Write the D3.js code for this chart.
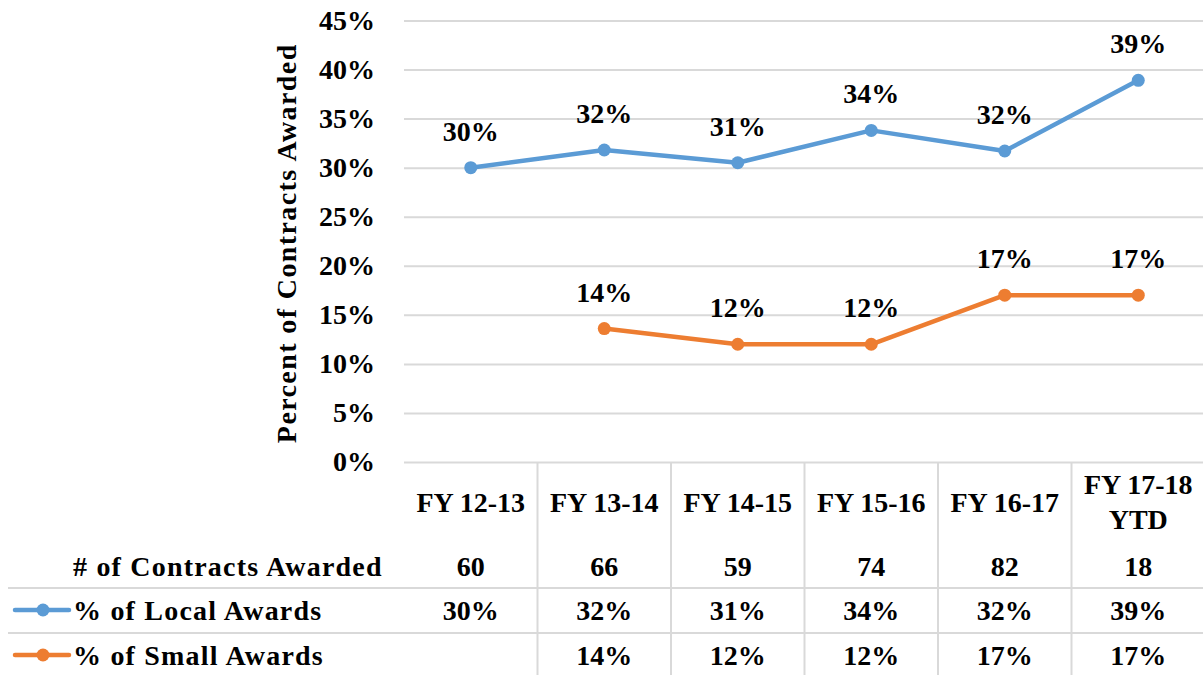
<!DOCTYPE html>
<html>
<head>
<meta charset="utf-8">
<script src="https://cdn.jsdelivr.net/npm/d3@7"></script>
<style>
  body { margin: 0; background: #fff; }
</style>
</head>
<body>
<svg id="chart"></svg>
<script>
// Data
const categories = ["FY 12-13", "FY 13-14", "FY 14-15", "FY 15-16", "FY 16-17", "FY 17-18 YTD"];
const contracts = [60, 66, 59, 74, 82, 18];
const localPct = [30.0, 31.8, 30.5, 33.8, 31.7, 38.9];
const smallPct = [null, 13.6, 12.0, 12.0, 17.0, 17.0];
const localLabels = ["30%", "32%", "31%", "34%", "32%", "39%"];
const smallLabels = ["", "14%", "12%", "12%", "17%", "17%"];
const yTicks = [0, 5, 10, 15, 20, 25, 30, 35, 40, 45];

const width = 1203;
const height = 675;
const plot = { left: 404, right: 1205, top: 20.5, bottom: 462 };

const fontFamily = '"Liberation Serif", "Times New Roman", "DejaVu Serif", serif';
const fontSize = "28px";
const blue = "#5b9bd5";
const orange = "#ed7d31";
const gridColor = "#d9d9d9";

const svg = d3.select("#chart")
  .attr("width", width)
  .attr("height", height)
  .attr("font-family", fontFamily)
  .attr("font-weight", "bold")
  .attr("font-size", fontSize);

const x = d3.scaleBand().domain(categories).range([plot.left, plot.right]).padding(0);
const y = d3.scaleLinear().domain([0, 45]).range([plot.bottom, plot.top]);
const cx = (d) => x(d) + x.bandwidth() / 2;

// label helper so every text gets the serif font (axes set their own)
const styleText = (sel) =>
  sel.attr("font-family", fontFamily).attr("font-weight", "bold").attr("font-size", fontSize).attr("fill", "#000");

// Gridlines
svg.append("g")
  .attr("transform", `translate(${plot.left},0)`)
  .call(d3.axisLeft(y).tickValues(yTicks).tickSize(-(plot.right - plot.left)).tickFormat(""))
  .call((g) => g.select(".domain").remove())
  .selectAll("line")
  .attr("stroke", gridColor)
  .attr("stroke-width", 2);

// Y axis labels
const yAxis = svg.append("g")
  .attr("transform", `translate(${plot.left},0)`)
  .call(d3.axisLeft(y).tickValues(yTicks).tickSize(0).tickPadding(29).tickFormat((d) => d + "%"))
  .call((g) => g.select(".domain").remove());
yAxis.attr("font-family", fontFamily).attr("font-size", fontSize);
styleText(yAxis.selectAll("text"));

// Y axis title
svg.append("text")
  .attr("transform", `translate(296,${(plot.top + plot.bottom) / 2 + 2}) rotate(-90)`)
  .attr("text-anchor", "middle")
  .call(styleText)
  .attr("letter-spacing", "1.4px")
  .text("Percent of Contracts Awarded");

// Lines and markers
const series = [
  { values: localPct, labels: localLabels, color: blue },
  { values: smallPct, labels: smallLabels, color: orange },
];

const line = d3.line()
  .defined((d) => d.v != null)
  .x((d) => cx(d.c))
  .y((d) => y(d.v));

series.forEach((s) => {
  const pts = categories.map((c, i) => ({ c, v: s.values[i], label: s.labels[i] }));
  svg.append("path")
    .datum(pts)
    .attr("d", line)
    .attr("fill", "none")
    .attr("stroke", s.color)
    .attr("stroke-width", 4.5)
    .attr("stroke-linejoin", "round");

  const valid = pts.filter((d) => d.v != null);
  svg.selectAll(null)
    .data(valid)
    .enter()
    .append("circle")
    .attr("cx", (d) => cx(d.c))
    .attr("cy", (d) => y(d.v))
    .attr("r", 6.5)
    .attr("fill", s.color);

  svg.selectAll(null)
    .data(valid)
    .enter()
    .append("text")
    .attr("x", (d) => cx(d.c))
    .attr("y", (d) => y(d.v) - 27)
    .attr("text-anchor", "middle")
    .call(styleText)
    .text((d) => d.label);
});

// Data table
const tableTop = plot.bottom;
const rowLines = [588, 633];
const headerY = 502;
const rowsY = [566, 610, 655];

categories.slice(1).forEach((c) => {
  svg.append("line")
    .attr("x1", x(c)).attr("x2", x(c))
    .attr("y1", tableTop).attr("y2", height)
    .attr("stroke", gridColor).attr("stroke-width", 2);
});
rowLines.forEach((ly) => {
  svg.append("line")
    .attr("x1", 8).attr("x2", width)
    .attr("y1", ly).attr("y2", ly)
    .attr("stroke", gridColor).attr("stroke-width", 2);
});

// header labels (wrap to the column width)
svg.selectAll(".hdr")
  .data(categories)
  .enter()
  .append("text")
  .attr("class", "hdr")
  .attr("text-anchor", "middle")
  .call(styleText)
  .each(function (d) {
    const t = d3.select(this);
    const words = d.split(" ");
    let lines = [d];
    t.text(d);
    if (this.getComputedTextLength() > x.bandwidth() - 8) {
      lines = [words.slice(0, -1).join(" "), words[words.length - 1]];
    }
    t.text(null);
    const lh = 35;
    const start = headerY - ((lines.length - 1) * lh) / 2;
    lines.forEach((l, i) => {
      t.append("tspan").attr("x", cx(d)).attr("y", start + i * lh).attr("dy", "0.35em").text(l);
    });
  });

const tableRows = [
  { name: "# of Contracts Awarded", values: contracts.map(String), color: null },
  { name: "% of Local Awards", values: localLabels, color: blue },
  { name: "% of Small Awards", values: smallLabels, color: orange },
];

tableRows.forEach((r, ri) => {
  const ry = rowsY[ri];
  if (r.color) {
    svg.append("line")
      .attr("x1", 15).attr("x2", 69)
      .attr("y1", ry).attr("y2", ry)
      .attr("stroke", r.color).attr("stroke-width", 4.5).attr("stroke-linecap", "round");
    svg.append("circle").attr("cx", 43).attr("cy", ry).attr("r", 6.5).attr("fill", r.color);
  }
  svg.append("text")
    .attr("x", 73).attr("y", ry).attr("dy", "0.35em")
    .call(styleText)
    .attr("letter-spacing", "1.2px")
    .text(r.name);
  svg.selectAll(null)
    .data(categories)
    .enter()
    .append("text")
    .attr("x", (d) => cx(d))
    .attr("y", ry).attr("dy", "0.35em")
    .attr("text-anchor", "middle")
    .call(styleText)
    .text((d, i) => r.values[i]);
});
</script>
</body>
</html>
